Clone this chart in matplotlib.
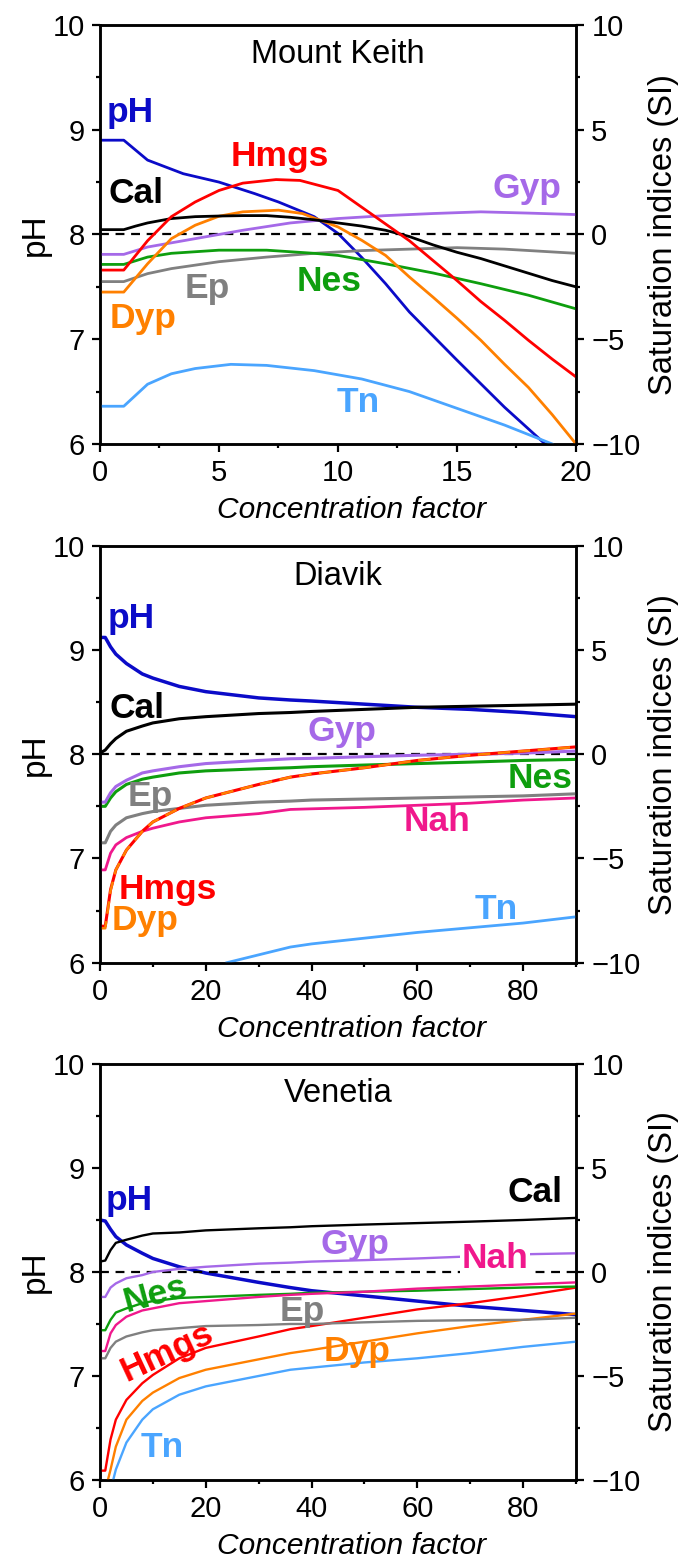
import numpy as np
import matplotlib
matplotlib.use("Agg")
import matplotlib.pyplot as plt
from matplotlib.ticker import MultipleLocator

plt.rcParams['font.family'] = ['Liberation Sans', 'DejaVu Sans']

### colours
c_ph = '#0B0BC8'
c_cal = '#000000'
c_hmgs = '#FF0000'
c_gyp = '#A569E8'
c_dyp = '#FF8000'
c_ep = '#808080'
c_nes = '#0E9E0E'
c_tn = '#4AA5FF'
c_nah = '#F0188C'

### Mount Keith (pH on left axis, saturation indices on right axis)
mk_ph_x = [0, 1, 2, 3.5, 5, 6.5, 7.5, 9, 10, 11, 12, 13, 15, 17, 18.7]
mk_ph = [8.9, 8.9, 8.71, 8.58, 8.50, 8.39, 8.31, 8.17, 8.01, 7.78, 7.53, 7.26, 6.80, 6.35, 6.0]
mk_cal_x = [0, 1, 1.5, 2, 3, 4, 5, 6, 7, 8, 9, 10, 11, 12, 13, 14, 15, 16, 17, 18, 19, 20]
mk_cal = [0.23, 0.23, 0.4, 0.55, 0.76, 0.85, 0.88, 0.9, 0.9, 0.82, 0.7, 0.55, 0.4, 0.2, -0.1, -0.5,
          -0.85, -1.15, -1.5, -1.85, -2.2, -2.5]
mk_hmgs_x = [0, 1, 2, 3, 4, 5, 6, 7.4, 8.4, 10, 11, 12, 13, 14, 15, 16, 17, 18, 19, 20]
mk_hmgs = [-1.7, -1.7, -0.3, 0.85, 1.55, 2.1, 2.45, 2.62, 2.58, 2.1, 1.3, 0.5, -0.3, -1.25, -2.2,
           -3.2, -4.1, -5.05, -5.95, -6.8]
mk_gyp_x = [0, 1, 2, 4, 6, 8, 10, 12, 14, 16, 18, 20]
mk_gyp = [-0.95, -0.95, -0.6, -0.2, 0.2, 0.55, 0.76, 0.9, 1.0, 1.08, 1.02, 0.95]
mk_dyp_x = [0, 1, 2, 3, 4, 5, 6, 7.5, 8.5, 10, 11, 12, 13, 14, 15, 16, 17, 18, 19, 20]
mk_dyp = [-2.75, -2.75, -1.4, -0.2, 0.44, 0.87, 1.08, 1.16, 1.0, 0.36, -0.28, -1.0, -2.03, -3.0,
          -4.0, -5.05, -6.2, -7.3, -8.6, -10.0]
mk_ep_x = [0, 1, 2, 3, 5, 7, 9, 11, 13, 15, 17, 20]
mk_ep = [-2.25, -2.25, -1.87, -1.63, -1.3, -1.08, -0.9, -0.77, -0.7, -0.63, -0.7, -0.9]
mk_nes_x = [0, 1, 2, 3, 5, 7, 9, 10, 12, 14, 16, 18, 20]
mk_nes = [-1.43, -1.43, -1.08, -0.9, -0.75, -0.75, -0.9, -1.0, -1.4, -1.84, -2.35, -2.9, -3.55]
mk_tn_x = [0, 1, 2, 3, 4, 5.5, 7, 9, 11, 13, 15, 17, 19]
mk_tn = [-8.2, -8.2, -7.15, -6.65, -6.4, -6.2, -6.25, -6.5, -6.9, -7.5, -8.3, -9.1, -10.0]

### Diavik
dv_x = [0, 1, 2, 3, 5, 8, 10, 15, 20, 30, 36, 40, 50, 60, 70, 80, 90]
dv_ph = [9.12, 9.12, 9.03, 8.96, 8.87, 8.77, 8.73, 8.65, 8.60, 8.54, 8.52, 8.51, 8.48, 8.45, 8.43, 8.40, 8.36]
dv_cal = [0.05, 0.2, 0.5, 0.75, 1.1, 1.35, 1.5, 1.7, 1.8, 1.95, 2.0, 2.05, 2.15, 2.25, 2.3, 2.35, 2.4]
dv_gyp = [-2.3, -2.3, -1.85, -1.55, -1.25, -0.9, -0.8, -0.6, -0.45, -0.3, -0.22, -0.2, -0.12, -0.05, 0.0, 0.05, 0.15]
dv_nes = [-2.5, -2.5, -2.1, -1.8, -1.45, -1.2, -1.1, -0.9, -0.8, -0.7, -0.65, -0.6, -0.52, -0.45, -0.38, -0.3, -0.25]
dv_ep = [-4.25, -4.25, -3.7, -3.4, -3.05, -2.85, -2.75, -2.6, -2.45, -2.3, -2.25, -2.2, -2.15, -2.1, -2.05, -2.0, -1.9]
dv_nah = [-5.55, -5.55, -4.75, -4.35, -4.0, -3.7, -3.55, -3.25, -3.05, -2.85, -2.65, -2.62, -2.55, -2.45, -2.35, -2.2, -2.1]
dv_hmgs = [-8.25, -8.25, -6.5, -5.55, -4.6, -3.7, -3.25, -2.6, -2.1, -1.45, -1.1, -0.95, -0.65, -0.3, -0.05, 0.15, 0.35]
dv_dyp = [-8.35, -8.35, -6.55, -5.55, -4.6, -3.7, -3.25, -2.6, -2.1, -1.45, -1.1, -0.95, -0.65, -0.3, -0.05, 0.15, 0.35]
dv_tn_x = [24, 36, 40, 60, 80, 90]
dv_tn = [-10.0, -9.25, -9.1, -8.55, -8.1, -7.8]

### Venetia
vn_x = [0, 1, 2, 3, 5, 8, 10, 15, 20, 30, 36, 40, 50, 60, 70, 80, 90]
vn_ph = [8.50, 8.49, 8.41, 8.34, 8.26, 8.18, 8.13, 8.05, 7.99, 7.90, 7.85, 7.82, 7.77, 7.72, 7.67, 7.63, 7.59]
vn_cal = [0.5, 0.55, 1.05, 1.4, 1.55, 1.75, 1.85, 1.9, 2.0, 2.1, 2.15, 2.2, 2.28, 2.35, 2.42, 2.5, 2.6]
vn_gyp = [-1.2, -1.2, -0.75, -0.55, -0.3, -0.15, 0.0, 0.15, 0.25, 0.4, 0.45, 0.5, 0.57, 0.65, 0.75, 0.85, 0.9]
vn_nes = [-2.8, -2.8, -2.3, -1.95, -1.75, -1.5, -1.4, -1.25, -1.2, -1.1, -1.05, -1.0, -0.95, -0.9, -0.82, -0.75, -0.7]
vn_nah = [-3.8, -3.8, -2.95, -2.55, -2.15, -1.85, -1.75, -1.5, -1.4, -1.2, -1.1, -1.05, -0.95, -0.8, -0.7, -0.6, -0.5]
vn_ep = [-4.15, -4.15, -3.65, -3.35, -3.1, -2.9, -2.8, -2.7, -2.6, -2.55, -2.5, -2.5, -2.42, -2.35, -2.32, -2.3, -2.2]
vn_hmgs = [-9.55, -9.55, -8.05, -7.1, -6.15, -5.35, -4.95, -4.15, -3.65, -3.1, -2.75, -2.6, -2.2, -1.8, -1.5, -1.15, -0.75]
vn_dyp_x = [1.5, 2, 3, 5, 8, 10, 15, 20, 30, 36, 40, 50, 60, 70, 80, 90]
vn_dyp = [-10.0, -9.5, -8.4, -7.1, -6.2, -5.8, -5.1, -4.7, -4.2, -3.9, -3.75, -3.35, -2.95, -2.6, -2.3, -2.0]
vn_tn_x = [2.5, 3, 5, 8, 10, 15, 20, 30, 36, 40, 50, 60, 70, 80, 90]
vn_tn = [-10.0, -9.5, -8.2, -7.1, -6.6, -5.9, -5.5, -5.0, -4.7, -4.6, -4.35, -4.15, -3.9, -3.6, -3.35]


def setup_axes(ax, ax2, xmax, xmajor):
    ax.set_xlim(0, xmax)
    ax.set_ylim(6, 10)
    ax2.set_ylim(-10, 10)
    ax.xaxis.set_major_locator(MultipleLocator(xmajor))
    ax.xaxis.set_minor_locator(MultipleLocator(xmajor / 2))
    ax.yaxis.set_major_locator(MultipleLocator(1))
    ax.yaxis.set_minor_locator(MultipleLocator(0.5))
    ax2.yaxis.set_major_locator(MultipleLocator(5))
    ax2.yaxis.set_minor_locator(MultipleLocator(2.5))
    for a in (ax, ax2):
        a.tick_params(which='major', direction='out', length=6, width=1.6, labelsize=21, pad=5)
        a.tick_params(which='minor', direction='out', length=3, width=1.6)
        for s in a.spines.values():
            s.set_linewidth(1.8)
    ax.tick_params(top=False, right=False, which='both')
    ax.set_xlabel('Concentration factor', fontsize=21.5, style='italic')
    ax.xaxis.set_label_coords(0.528, -0.125)
    ax.set_ylabel('pH', fontsize=24)
    ax.yaxis.set_label_coords(-0.103, 0.5)
    ax2.set_ylabel('Saturation indices (SI)', fontsize=23.5)
    ax2.yaxis.set_label_coords(1.152, 0.5)
    ax2.axhline(0, color='black', lw=1.6, ls=(0, (4, 3)), zorder=1)


def label(ax, ax2, x, y, s, color, ha='left', rot=0, box=False):
    kw = {}
    if box:
        kw['bbox'] = dict(facecolor='white', edgecolor='none', pad=1)
    ax2.text(x, y, s, color=color, fontsize=25.5, fontweight='bold', ha=ha, va='center',
             rotation=rot, rotation_mode='anchor', transform=ax.transData, zorder=5, **kw)


fig = plt.figure(figsize=(6.88, 15.61), dpi=100)
left, width = 0.1453, 0.6919
ax_mk = fig.add_axes([left, 0.7156, width, 0.2684])
ax_dv = fig.add_axes([left, 0.3833, width, 0.2671])
ax_vn = fig.add_axes([left, 0.0519, width, 0.2665])

# ---- Mount Keith ----
ax, ax2 = ax_mk, ax_mk.twinx()
setup_axes(ax, ax2, 20, 5)
ax.plot(mk_ph_x, mk_ph, color=c_ph, lw=2.0)
ax2.plot(mk_tn_x, mk_tn, color=c_tn, lw=2.0)
ax2.plot(mk_ep_x, mk_ep, color=c_ep, lw=2.0)
ax2.plot(mk_nes_x, mk_nes, color=c_nes, lw=2.0)
ax2.plot(mk_gyp_x, mk_gyp, color=c_gyp, lw=2.0)
ax2.plot(mk_dyp_x, mk_dyp, color=c_dyp, lw=2.0)
ax2.plot(mk_cal_x, mk_cal, color=c_cal, lw=2.0)
ax2.plot(mk_hmgs_x, mk_hmgs, color=c_hmgs, lw=2.0)
ax2.text(0.5, 0.93, 'Mount Keith', fontsize=23.5, ha='center', va='center', transform=ax.transAxes)
label(ax, ax2, 0.28, 9.16, 'pH', c_ph)
label(ax, ax2, 0.37, 8.39, 'Cal', c_cal)
label(ax, ax2, 5.49, 8.74, 'Hmgs', c_hmgs)
label(ax, ax2, 16.49, 8.44, 'Gyp', c_gyp)
label(ax, ax2, 3.55, 7.48, 'Ep', c_ep)
label(ax, ax2, 8.26, 7.55, 'Nes', c_nes)
label(ax, ax2, 0.41, 7.20, 'Dyp', c_dyp)
label(ax, ax2, 9.93, 6.40, 'Tn', c_tn)

# ---- Diavik ----
ax, ax2 = ax_dv, ax_dv.twinx()
setup_axes(ax, ax2, 90, 20)
ax.plot(dv_x, dv_ph, color=c_ph, lw=2.5)
ax2.plot(dv_tn_x, dv_tn, color=c_tn, lw=2.0)
ax2.plot(dv_x, dv_nah, color=c_nah, lw=2.0)
ax2.plot(dv_x, dv_ep, color=c_ep, lw=2.2)
ax2.plot(dv_x, dv_nes, color=c_nes, lw=2.2)
ax2.plot(dv_x, dv_gyp, color=c_gyp, lw=2.2)
ax2.plot(dv_x, dv_cal, color=c_cal, lw=2.2)
ax2.plot(dv_x, dv_hmgs, color=c_hmgs, lw=2.2)
ax2.plot(dv_x, dv_dyp, color=c_dyp, lw=1.8, ls=(0, (5, 3)))
ax2.text(0.5, 0.925, 'Diavik', fontsize=23.5, ha='center', va='center', transform=ax.transAxes)
label(ax, ax2, 1.41, 9.30, 'pH', c_ph)
label(ax, ax2, 1.83, 8.44, 'Cal', c_cal)
label(ax, ax2, 39.3, 8.22, 'Gyp', c_gyp)
label(ax, ax2, 77.1, 7.77, 'Nes', c_nes)
label(ax, ax2, 5.16, 7.59, 'Ep', c_ep)
label(ax, ax2, 57.4, 7.35, 'Nah', c_nah)
label(ax, ax2, 3.5, 6.70, 'Hmgs', c_hmgs)
label(ax, ax2, 2.25, 6.40, 'Dyp', c_dyp)
label(ax, ax2, 70.9, 6.51, 'Tn', c_tn)

# ---- Venetia ----
ax, ax2 = ax_vn, ax_vn.twinx()
setup_axes(ax, ax2, 90, 20)
ax.plot(vn_x, vn_ph, color=c_ph, lw=2.5)
ax2.plot(vn_tn_x, vn_tn, color=c_tn, lw=1.7)
ax2.plot(vn_dyp_x, vn_dyp, color=c_dyp, lw=1.7)
ax2.plot(vn_x, vn_hmgs, color=c_hmgs, lw=1.7)
ax2.plot(vn_x, vn_ep, color=c_ep, lw=1.7)
ax2.plot(vn_x, vn_nes, color=c_nes, lw=1.7)
ax2.plot(vn_x, vn_nah, color=c_nah, lw=1.7)
ax2.plot(vn_x, vn_gyp, color=c_gyp, lw=1.7)
ax2.plot(vn_x, vn_cal, color=c_cal, lw=1.7)
ax2.text(0.5, 0.93, 'Venetia', fontsize=23.5, ha='center', va='center', transform=ax.transAxes)
label(ax, ax2, 1.0, 8.69, 'pH', c_ph)
label(ax, ax2, 87.5, 8.76, 'Cal', c_cal, ha='right')
label(ax, ax2, 41.7, 8.26, 'Gyp', c_gyp)
label(ax, ax2, 68.4, 8.13, 'Nah', c_nah, box=True)
label(ax, ax2, 4.5, 7.70, 'Nes', c_nes, rot=15)
label(ax, ax2, 33.9, 7.62, 'Ep', c_ep)
label(ax, ax2, 4.3, 7.03, 'Hmgs', c_hmgs, rot=25)
label(ax, ax2, 42.2, 7.24, 'Dyp', c_dyp)
label(ax, ax2, 7.65, 6.31, 'Tn', c_tn)

fig.savefig('out.png', dpi=100)
